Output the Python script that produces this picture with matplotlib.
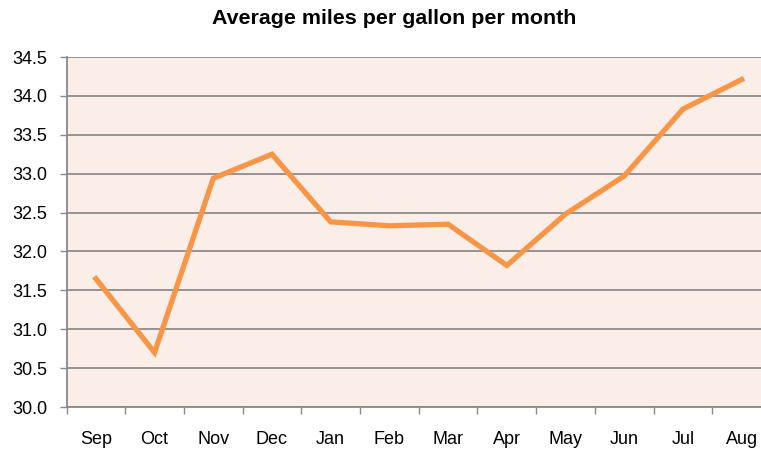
import matplotlib.pyplot as plt
import numpy as np

plt.rcParams['font.family'] = ['Liberation Sans', 'DejaVu Sans']

months = ['Sep', 'Oct', 'Nov', 'Dec', 'Jan', 'Feb', 'Mar', 'Apr', 'May', 'Jun', 'Jul', 'Aug']
mpg = [31.65, 30.70, 32.94, 33.25, 32.38, 32.33, 32.35, 31.82, 32.48, 32.97, 33.83, 34.21]

W, H = 761, 450
fig = plt.figure(figsize=(W / 100, H / 100), dpi=100)
# plot area runs past the right edge of the image, like the original
ax = fig.add_axes([66.5 / W, 1 - 407 / H, (771 - 66.5) / W, 350 / H])

ax.set_facecolor('#fbede7')
x = np.arange(len(months))
ax.plot(x, mpg, color='#f79646', linewidth=3.8, solid_joinstyle='miter', zorder=3)

ax.set_xlim(-0.5, len(months) - 0.5)
ax.set_ylim(30.0, 34.5)
ax.set_yticks(np.arange(30.0, 34.51, 0.5))
ax.set_yticklabels(['%.1f' % v for v in np.arange(30.0, 34.51, 0.5)], fontsize=13)
ax.set_xticks(x)
ax.set_xticklabels(months, fontsize=13)
ax.set_xticks(np.arange(-0.5, len(months)), minor=True)
ax.tick_params(axis='x', which='major', length=0, pad=17.5)
ax.tick_params(axis='x', which='minor', length=5, color='#898989', width=1)
ax.tick_params(axis='y', length=5, color='#898989', width=1, pad=9)

ax.grid(axis='y', color='#8c8c8c', linewidth=1.3)
for s in ['top', 'right']:
    ax.spines[s].set_visible(False)
for s in ['left', 'bottom']:
    ax.spines[s].set_color('#898989')
    ax.spines[s].set_linewidth(1.3)

fig.text(394 / W, 1 - 18 / H, 'Average miles per gallon per month', ha='center', va='center',
         fontsize=15.4, fontweight='bold')

fig.savefig('out.png', dpi=100)
